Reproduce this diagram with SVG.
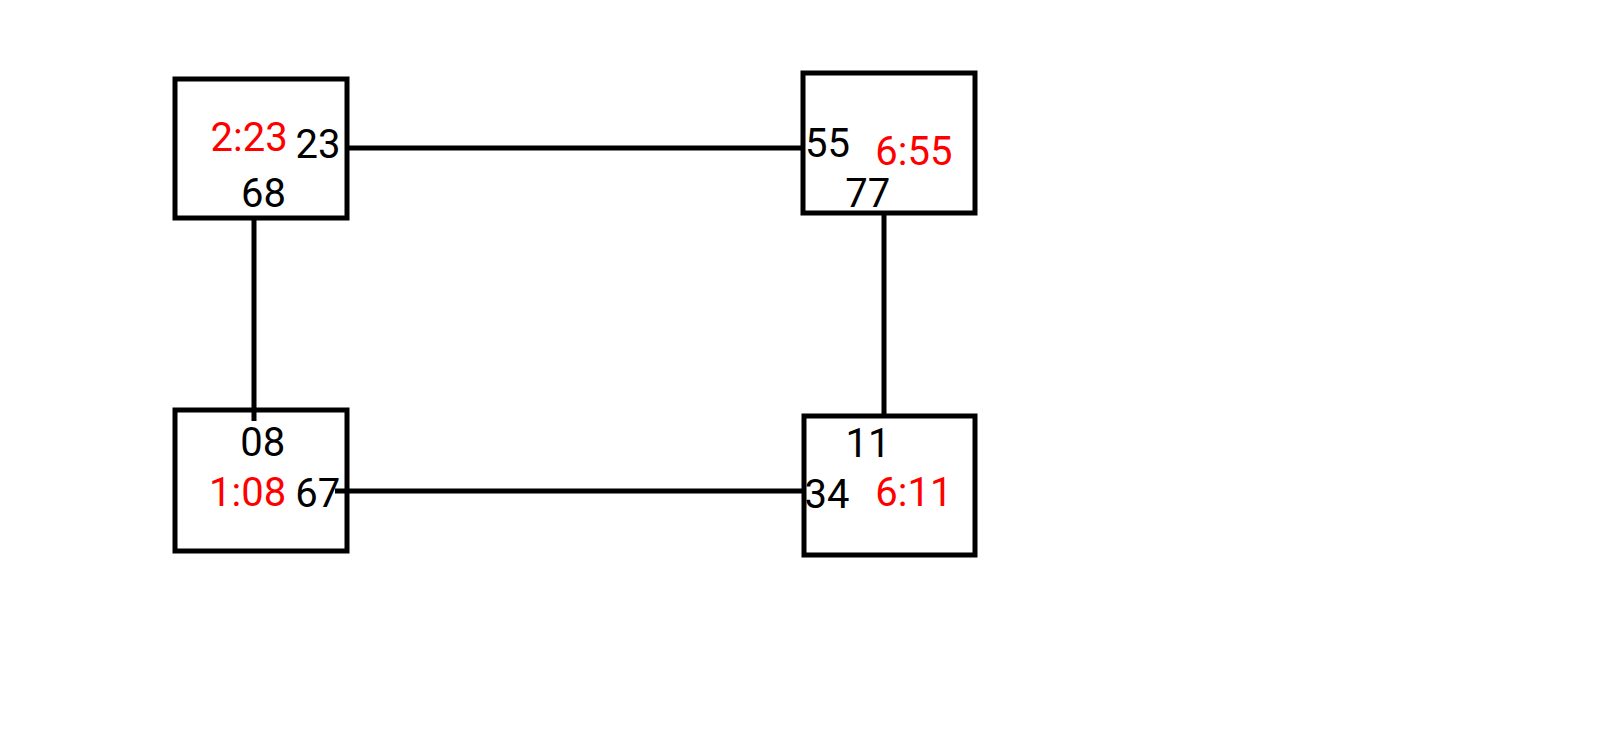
<svg xmlns="http://www.w3.org/2000/svg" width="1600" height="750" viewBox="0 0 1600 750">
<style>
.box{fill:#fff;stroke:#000;stroke-width:5}
.edge{stroke:#000;stroke-width:5;fill:none}
text{font-family:Roboto,"Noto Sans",sans-serif;font-size:40px}
.k{fill:#000}
.r{fill:#ff0000}
</style>
<rect width="1600" height="750" fill="#fff"/>
<g id="n1">
<rect class="box" x="175" y="79" width="172" height="139"/>
<text class="r" x="210.5" y="151">2:23</text>
<text class="k" x="241" y="206.5">68</text>
</g>
<g id="n2">
<rect class="box" x="803" y="73" width="172" height="140"/>
<text class="r" x="875.3" y="165">6:55</text>
<text class="k" x="845.3" y="206.7">77</text>
</g>
<g id="n3">
<rect class="box" x="175" y="410" width="172" height="141"/>
<text class="k" x="240.2" y="456">08</text>
<text class="r" x="209" y="506">1:08</text>
</g>
<g id="n4">
<rect class="box" x="804" y="416" width="171" height="139"/>
<text class="k" x="845.5" y="457.3">11</text>
<text class="r" x="875.3" y="506">6:11</text>
</g>
<g id="connectors">
<line class="edge" x1="347" y1="148" x2="803" y2="148"/>
<line class="edge" x1="335" y1="491" x2="804" y2="491"/>
<line class="edge" x1="254" y1="218" x2="254" y2="421"/>
<line class="edge" x1="884" y1="213" x2="884" y2="416"/>
</g>
<g id="port-labels">
<text class="k" x="295.5" y="157.5">23</text>
<text class="k" x="805" y="156.7">55</text>
<text class="k" x="295.3" y="507.3">67</text>
<text class="k" x="804.5" y="508.3">34</text>
</g>
</svg>
